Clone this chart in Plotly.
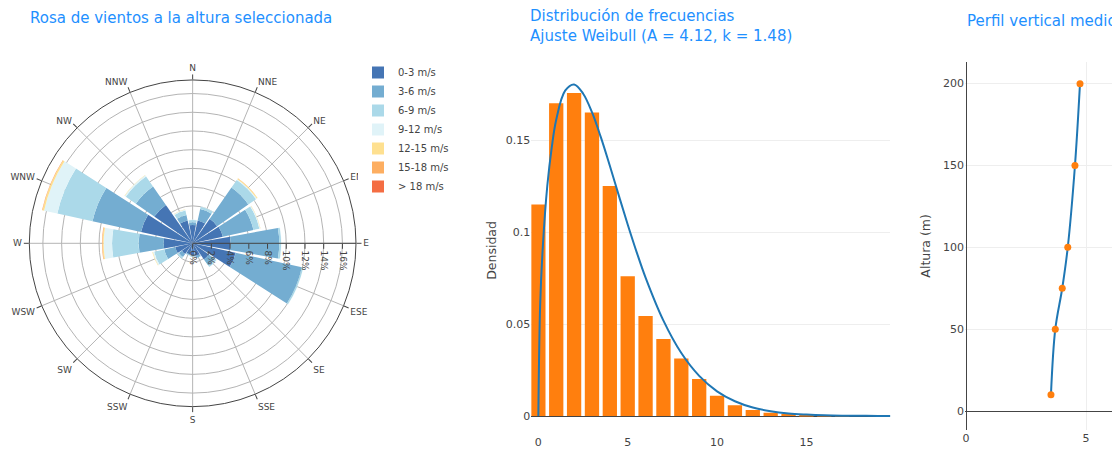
import plotly.graph_objects as go

W, H = 1120, 450
OFF = 8  # page body margin: figure pixel = page pixel - OFF

# ---------------- data ----------------
directions = ["N", "NNE", "NE", "EN", "E", "ESE", "SE", "SSE",
              "S", "SSW", "SW", "WSW", "W", "WNW", "NW", "NNW"]
speed_bins = ["0-3 m/s", "3-6 m/s", "6-9 m/s", "9-12 m/s",
              "12-15 m/s", "15-18 m/s", "> 18 m/s"]
bin_colors = ["#4575b4", "#74add1", "#abd9e9", "#e0f3f8",
              "#fee090", "#fdae61", "#f46d43"]

# frequency (%) per direction, in the order of `directions`
freq_0_3 = [1.95, 2.5, 3.2, 3.3, 4.05, 4.7, 2.1, 1.4, 1.3, 1.2, 1.4, 1.9, 3.1, 5.65, 5.0, 2.5]
freq_3_6 = [0.3, 1.25, 4.05, 3.35, 5.2, 7.25, 0.8, 0.2, 0.1, 0.1, 0.4, 1.2, 2.67, 5.3, 2.4, 0.6]
freq_6_9 = [0.25, 0.25, 1.0, 0.65, 0.2, 0.15, 0.2, 0.05, 0.03, 0.05, 0.2, 1.1, 2.84, 3.85, 1.3, 0.5]
freq_9_12 = [0.03, 0.05, 0.1, 0.1, 0.03, 0.02, 0.02, 0.0, 0.0, 0.0, 0.02, 0.15, 0.9, 1.45, 0.15, 0.1]
freq_12_15 = [0.0, 0.0, 0.1, 0.03, 0.0, 0.0, 0.0, 0.0, 0.0, 0.0, 0.0, 0.05, 0.12, 0.17, 0.03, 0.02]
freq_15_18 = [0.0, 0.0, 0.01, 0.0, 0.0, 0.0, 0.0, 0.0, 0.0, 0.0, 0.0, 0.0, 0.05, 0.05, 0.0, 0.0]
freq_gt_18 = [0.0, 0.0, 0.0, 0.0, 0.0, 0.0, 0.0, 0.0, 0.0, 0.0, 0.0, 0.0, 0.01, 0.01, 0.0, 0.0]
rose_values = [freq_0_3, freq_3_6, freq_6_9, freq_9_12, freq_12_15, freq_15_18, freq_gt_18]

# histogram of wind speed (density per 1 m/s bin)
hist_speed = [0, 1, 2, 3, 4, 5, 6, 7, 8, 9, 10, 11, 12, 13, 14, 15, 16, 17]
hist_density = [0.1149, 0.170, 0.1755, 0.1649, 0.125, 0.0759, 0.0543, 0.0418, 0.0313,
                0.0201, 0.011, 0.0058, 0.0033, 0.0018, 0.0011, 0.0006, 0.0003, 0.0002]

# Weibull fit curve
weib_speed = [0, 0.1, 0.25, 0.5, 0.75, 1, 1.5, 2, 2.5, 3, 3.5, 4, 4.5, 5, 5.5, 6,
              7, 8, 9, 10, 11, 12, 13, 14, 15, 16, 17, 18, 19, 19.7]
weib_density = [0.0, 0.060, 0.092, 0.125, 0.146, 0.161, 0.1768, 0.1802, 0.1753, 0.1651,
                0.1514, 0.1360, 0.1199, 0.1041, 0.0891, 0.0752, 0.0518, 0.0342, 0.0218,
                0.0134, 0.0080, 0.0046, 0.0026, 0.0014, 0.0008, 0.0004, 0.0002, 0.0001,
                0.00005, 0.00003]

# mean vertical profile
profile_speed = [3.54, 3.72, 4.01, 4.24, 4.54, 4.75]
profile_height = [10, 50, 75, 100, 150, 200]

# ---------------- figure ----------------
FONT = "Verdana, DejaVu Sans, sans-serif"
fig = go.Figure()

for name, color, vals in zip(speed_bins, bin_colors, rose_values):
    fig.add_trace(go.Barpolar(r=vals, theta=directions, name=name,
                              marker_color=color, subplot="polar"))

fig.add_trace(go.Bar(x=hist_speed, y=hist_density, marker_color="#ff7f0e",
                     xaxis="x", yaxis="y", showlegend=False))
fig.add_trace(go.Scatter(x=weib_speed, y=weib_density, mode="lines",
                         line=dict(color="#1f77b4", width=2, shape="spline"),
                         xaxis="x", yaxis="y", showlegend=False))

fig.add_trace(go.Scatter(x=profile_speed, y=profile_height, mode="lines+markers",
                         line=dict(color="#1f77b4", width=2, shape="spline"),
                         marker=dict(color="#ff7f0e", size=7),
                         xaxis="x2", yaxis="y2", showlegend=False))


def px_x(p):
    """page x pixel -> paper coordinate"""
    return (p - OFF) / W


def px_y(p):
    """page y pixel -> paper coordinate"""
    return 1 - (p - OFF) / H


title_color = "#1E90FF"
title_font = dict(family=FONT, size=15, color=title_color)
axis_title_font = dict(family=FONT, size=12.5, color="#444")
tick_font = dict(family=FONT, size=11, color="#444")

fig.update_layout(
    template="none",
    width=W, height=H,
    margin=dict(l=0, r=0, t=0, b=0),
    paper_bgcolor="white",
    plot_bgcolor="white",
    font=dict(family=FONT, size=11, color="#444"),
    showlegend=True,
    legend=dict(x=px_x(358), y=px_y(58), xanchor="left", yanchor="top",
                font=dict(family=FONT, size=10, color="#444")),
    polar=dict(
        domain=dict(x=[px_x(29.3), px_x(356.0)], y=[px_y(406.65), px_y(79.95)]),
        bgcolor="white",
        radialaxis=dict(range=[0, 17.45], dtick=2, ticksuffix="%", angle=0,
                        tickangle=90, ticks="outside", showline=True,
                        linecolor="#444", tickfont=dict(family=FONT, size=9)),
        angularaxis=dict(direction="clockwise", rotation=90, ticks="outside",
                         linecolor="#444", tickfont=dict(family=FONT, size=9)),
    ),
    xaxis=dict(domain=[px_x(531.2), px_x(890.4)], range=[-0.4, 19.7],
               showgrid=False, zeroline=False, tickvals=[0, 5, 10, 15],
               tickfont=tick_font),
    yaxis=dict(domain=[px_y(434.4), px_y(66.4)], range=[-0.01, 0.19],
               dtick=0.05, tickfont=tick_font,
               title=dict(text="Densidad", font=axis_title_font)),
    xaxis2=dict(domain=[px_x(965.0), 1.0], range=[-0.042, 6.75], dtick=5,
                anchor="y2", tickfont=tick_font),
    yaxis2=dict(domain=[px_y(430.0), px_y(61.7)], range=[-11.6, 213.4], dtick=50,
                anchor="x2", tickfont=tick_font,
                title=dict(text="Altura (m)", font=axis_title_font)),
    annotations=[
        dict(text="Rosa de vientos a la altura seleccionada", x=px_x(28), y=px_y(18),
             xref="paper", yref="paper", xanchor="left", yanchor="middle",
             showarrow=False, align="left", font=title_font),
        dict(text="Distribución de frecuencias<br>Ajuste Weibull (A = 4.12, k = 1.48)",
             x=px_x(528), y=px_y(26.5), xref="paper", yref="paper",
             xanchor="left", yanchor="middle", showarrow=False, align="left",
             font=title_font),
        dict(text="Perfil vertical medio", x=px_x(965), y=px_y(21),
             xref="paper", yref="paper", xanchor="left", yanchor="middle",
             showarrow=False, align="left", font=title_font),
    ],
)

fig.write_html("out.html")
